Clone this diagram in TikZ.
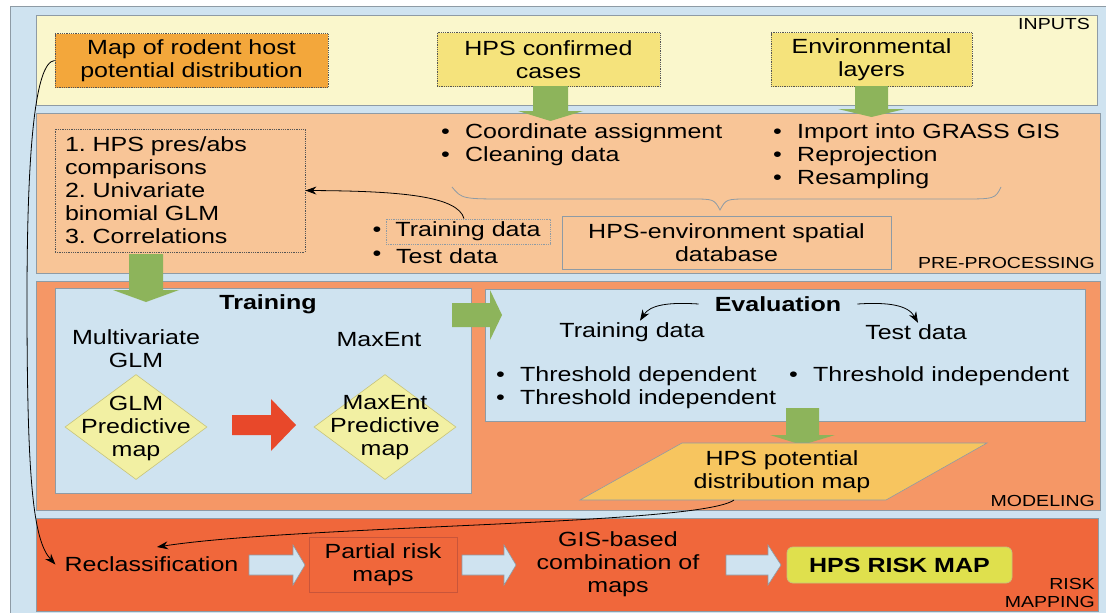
\documentclass[tikz,border=0pt]{standalone}
\usepackage{fontspec}
\setmainfont{Liberation Sans}[FakeStretch=1.22]
\usetikzlibrary{shapes.geometric,arrows.meta}
\frenchspacing
\definecolor{outerblue}{HTML}{CFE3F0}
\definecolor{inputbg}{HTML}{FAF7CC}
\definecolor{prebg}{HTML}{F8C597}
\definecolor{modbg}{HTML}{F59766}
\definecolor{riskbg}{HTML}{F0673B}
\definecolor{rodentfill}{HTML}{F3A73B}
\definecolor{inyellow}{HTML}{F5E37C}
\definecolor{arrowgreen}{HTML}{8DB45B}
\definecolor{diamondfill}{HTML}{F2F0A3}
\definecolor{diamondline}{HTML}{C8C47A}
\definecolor{redarrow}{HTML}{E8482A}
\definecolor{parafill}{HTML}{F7C55F}
\definecolor{riskmapfill}{HTML}{DFE04D}
\definecolor{panelline}{HTML}{8E9BA5}
\definecolor{dotline}{HTML}{555555}
\definecolor{partialline}{HTML}{C9553A}
\newcommand\bul{\makebox[24pt][l]{\textbullet}}
\newcommand\bodyfont{\fontsize{20.5}{23}\selectfont\frenchspacing}
\newcommand\lblfont{\fontsize{16}{18}\selectfont}
\tikzset{
  panel/.style={draw=panelline, line width=0.8pt},
  txt/.style={inner sep=0pt, font=\bodyfont, align=center},
  btxt/.style={inner sep=0pt, font=\bodyfont\bfseries, align=center},
  lbl/.style={inner sep=0pt, font=\lblfont, align=right, anchor=east},
  inbox/.style={draw=dotline, densely dotted, line width=0.8pt, minimum height=54pt, font=\bodyfont, align=center, inner sep=0pt},
  garrow/.style={fill=arrowgreen},
  barrow/.style={fill=outerblue, draw=panelline, line width=0.6pt},
  conn/.style={draw=black, line width=0.8pt, -{Stealth[length=11pt,width=8pt]}},
  dmd/.style={diamond, fill=diamondfill, draw=diamondline, line width=0.6pt, inner sep=0pt, minimum width=142pt, minimum height=105pt}
}
\begin{document}
\begin{tikzpicture}[x=1pt,y=-1pt]
\useasboundingbox (0,0) rectangle (1106,613);
\fill[white] (0,0) rectangle (1106,613);
% panels
\draw[panel, fill=outerblue] (10,6) rectangle (1110,617);
\draw[panel, fill=inputbg] (36,15) rectangle (1097,105);
\draw[panel, fill=prebg] (36,113) rectangle (1100,273);
\draw[panel, fill=modbg] (36,281) rectangle (1100,510);
\draw[panel, fill=outerblue] (55,288) rectangle (471,493);
\draw[panel, fill=outerblue] (485,289) rectangle (1085,421);
\draw[panel, fill=riskbg] (36,518) rectangle (1098,611);
% section labels
\node[lbl] (lin) at (1090,24) {INPUTS};
\node[lbl] (lpre) at (1095,263) {PRE-PROCESSING};
\node[lbl] (lmod) at (1095,501) {MODELING};
\node[lbl] (lrisk) at (1095,593) {RISK\\MAPPING};
% inputs
\node[inbox, fill=rodentfill, minimum width=273pt] (rodent) at (191.5,60.5) {Map of rodent host\\potential distribution};
\node[inbox, fill=inyellow, minimum width=223pt] (hps) at (548.5,59.5) {HPS confirmed\\cases};
\node[inbox, fill=inyellow, minimum width=201pt] (env) at (871.5,59.5) {Environmental\\layers};
% green arrows inputs
\fill[garrow] (533,86) -- (568,86) -- (568,111) -- (583,111) -- (550.5,121) -- (518,111) -- (533,111) -- cycle;
\fill[garrow] (855,86) -- (888,86) -- (888,109) -- (905,109) -- (871.5,117) -- (838,109) -- (855,109) -- cycle;
% pre-processing
\node[txt, anchor=west, align=left] (pp1) at (441,144.5) {\bul Coordinate assignment\\\bul Cleaning data};
\node[txt, anchor=west, align=left] (pp2) at (773,156) {\bul Import into GRASS GIS\\\bul Reprojection\\\bul Resampling};
\draw[panelline, line width=0.8pt] (452,187) .. controls (462,199) .. (510,199) -- (690,199) .. controls (714,199) .. (720,210) .. controls (726,199) .. (750,199) -- (960,199) .. controls (995,199) .. (1001,187);
\node[draw=panelline, line width=0.8pt, minimum width=329pt, minimum height=53pt, txt] (db) at (726.5,243) {HPS-environment spatial\\database};
\node[draw=dotline, densely dotted, line width=0.8pt, text width=230pt, inner xsep=10pt, inner ysep=0pt, minimum height=123pt, align=left, font=\bodyfont] (steps) at (180,190.5) {1. HPS pres/abs\\comparisons\\2. Univariate\\binomial GLM\\3. Correlations};
\node[txt] (b1) at (377,232) {\textbullet};
\node[txt] (b2) at (377,256) {\textbullet};
\node[draw=panelline, densely dotted, line width=0.8pt, minimum width=164pt, minimum height=25pt, txt] (trd) at (468,231.5) {Training data};
\node[txt, anchor=west] (tsd) at (396,256.5) {Test data};
\draw[conn] ([xshift=-4pt]trd.north) .. controls (458,196) and (400,191) .. (steps.east);
% green arrow to training
\fill[garrow] (129,254) -- (163,254) -- (163,290) -- (179,290) -- (146,302) -- (113,290) -- (129,290) -- cycle;
% training
\node[btxt] (trtitle) at (268,304) {Training};
\node[txt] (mglm) at (136,349) {Multivariate\\GLM};
\node[txt] (mxe) at (379,339.5) {MaxEnt};
\node[dmd] (d1) at (136,427) {};
\node[txt] (d1t) at (136,428) {GLM\\Predictive\\map};
\node[dmd] (d2) at (385,427) {};
\node[txt] (d2t) at (385,428) {MaxEnt\\Predictive\\map};
\fill[redarrow] (232,415) -- (271,415) -- (271,399) -- (296,425) -- (271,451) -- (271,435) -- (232,435) -- cycle;
% green arrow to evaluation
\fill[garrow] (452,303) -- (490,303) -- (490,290) -- (502,315) -- (490,340) -- (490,327) -- (452,327) -- cycle;
% evaluation
\node[btxt] (evtitle) at (778,304) {Evaluation};
\node[txt] (evtr) at (632,332.5) {Training data};
\node[txt] (evts) at (916,332.5) {Test data};
\draw[conn] ([xshift=-16pt]evtitle.west) .. controls (668,302) and (650,305) .. ([xshift=8pt,yshift=2pt]evtr.north);
\draw[conn] ([xshift=16pt]evtitle.east) .. controls (888,302) and (908,305) .. ([xshift=2pt,yshift=2pt]evts.north);
\node[txt, anchor=west, align=left] (thr1) at (496,388) {\bul Threshold dependent\\\bul Threshold independent};
\node[txt, anchor=west, align=left] (thr2) at (789,376.5) {\bul Threshold independent};
\fill[garrow] (786,408) -- (819,408) -- (819,435) -- (835,435) -- (802,445) -- (770,435) -- (786,435) -- cycle;
% potential distribution map
\draw[fill=parafill, draw=panelline, line width=0.6pt] (580,500) -- (682,443) -- (987,443) -- (886,500) -- cycle;
\coordinate (pbot) at (734,500);
\node[txt] (pdm) at (782,472) {HPS potential\\distribution map};
% risk mapping
\node[txt, inner xsep=9pt] (reclass) at (151.5,564.5) {Reclassification};
\coordinate (rctip) at (157,547);
\draw[barrow] (249,555) -- (293,555) -- (293,545) -- (305,565) -- (293,585) -- (293,575) -- (249,575) -- cycle;
\node[draw=partialline, line width=0.8pt, minimum width=148pt, minimum height=55pt, txt] (partial) at (383,564.5) {Partial risk\\maps};
\draw[barrow] (462,555) -- (504,555) -- (504,545) -- (516,565) -- (504,585) -- (504,575) -- (462,575) -- cycle;
\node[txt] (gis) at (618,564.5) {GIS-based\\combination of\\maps};
\draw[barrow] (726,555) -- (768,555) -- (768,545) -- (781,565) -- (768,585) -- (768,575) -- (726,575) -- cycle;
\node[btxt, draw=diamondline, line width=0.8pt, fill=riskmapfill, rounded corners=6pt, minimum width=225pt, minimum height=36pt] (riskmap) at (899.5,565) {HPS RISK MAP};
% connectors to reclassification
\draw[conn] (rodent.west) .. controls (35,62) and (27,150) .. (27,300) .. controls (27,480) and (33,540) .. (reclass.west);
\draw[conn] (pbot) .. controls (700,525) and (300,525) .. (rctip);
\end{tikzpicture}
\end{document}
